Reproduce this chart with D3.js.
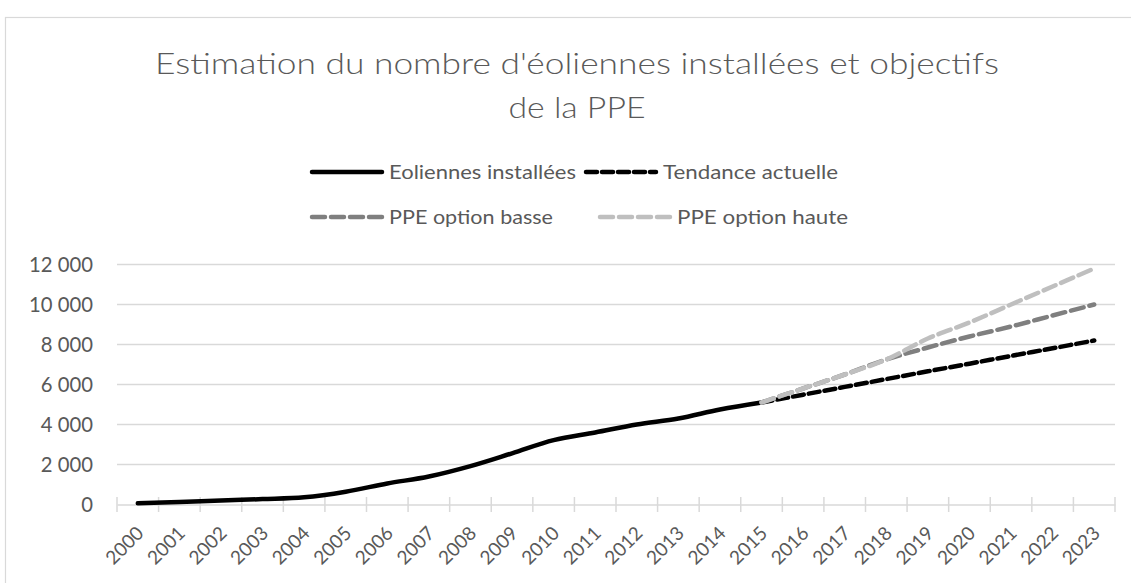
<!DOCTYPE html>
<html>
<head>
<meta charset="utf-8">
<script src="https://cdn.jsdelivr.net/npm/d3@7"></script>
<style>
  html, body { margin: 0; padding: 0; background: #ffffff; }
  svg { display: block; }
</style>
</head>
<body>
<svg id="chart" width="1131" height="583"></svg>
<script>
// ---- data ----
const years = d3.range(2000, 2024).map(String);
const yTicks = [0, 2000, 4000, 6000, 8000, 10000, 12000];

const installedYears = years.slice(0, 16);           // 2000-2015
const installedValues = [60, 120, 200, 270, 360, 640, 1050, 1400, 1920, 2560, 3220, 3600, 4000, 4300, 4750, 5100];

const forecastYears = years.slice(15);               // 2015-2023
const trendValues = [5100, 5490, 5880, 6270, 6660, 7040, 7430, 7810, 8200];
const ppeLowValues = [5100, 5800, 6500, 7250, 7850, 8400, 8900, 9450, 10000];
const ppeHighValues = [5100, 5800, 6500, 7250, 8300, 9100, 10000, 10900, 11800];

const seriesNames = ["Eoliennes installées", "Tendance actuelle", "PPE option basse", "PPE option haute"];
const titleLines = ["Estimation du nombre d'éoliennes installées et objectifs", "de la PPE"];

// ---- styles ----
const FONT = "Lato, 'Open Sans', sans-serif";
const TEXT = "#595959";
const GRID = "#d9d9d9";
const styles = [
  { color: "#000000", dash: null },
  { color: "#000000", dash: "11,5" },
  { color: "#7f7f7f", dash: "13,6" },
  { color: "#bfbfbf", dash: "13,6" }
];

const svg = d3.select("#chart");

// outer frame
svg.append("rect").attr("x", 5.5).attr("y", 17.5).attr("width", 1200).attr("height", 700)
  .attr("fill", "#fff").attr("stroke", GRID).attr("stroke-width", 1.2);

// helper: squeeze text horizontally to a target width
function squeeze(sel, targetWidth) {
  sel.attr("textLength", targetWidth).attr("lengthAdjust", "spacingAndGlyphs");
  return sel;
}

// ---- title ----
const t1 = svg.append("text").attr("x", 577).attr("y", 74).attr("text-anchor", "middle")
  .attr("font-family", FONT).attr("font-weight", 300).attr("font-size", 29).attr("fill", TEXT)
  .text(titleLines[0]);
squeeze(t1, 844);
const t2 = svg.append("text").attr("x", 577).attr("y", 118).attr("text-anchor", "middle")
  .attr("font-family", FONT).attr("font-weight", 300).attr("font-size", 29).attr("fill", TEXT)
  .text(titleLines[1]);
squeeze(t2, 137);

// ---- scales ----
const x = d3.scaleBand().domain(years).range([117, 1115]);
const xc = d => x(d) + x.bandwidth() / 2;
const y = d3.scaleLinear().domain([0, 12000]).range([504.5, 264.5]);

// gridlines
svg.append("g").selectAll("line").data(yTicks.filter(v => v > 0)).join("line")
  .attr("x1", 117).attr("x2", 1115)
  .attr("y1", d => y(d)).attr("y2", d => y(d))
  .attr("stroke", GRID).attr("stroke-width", 1.5);

// y axis labels
const fmt = d3.formatLocale({ decimal: ",", thousands: " ", grouping: [3] }).format(",d");
const yAxis = d3.axisLeft(y).tickValues(yTicks).tickFormat(fmt).tickSize(0).tickPadding(0);
const gy = svg.append("g").attr("transform", "translate(93,0)").call(yAxis);
gy.select(".domain").remove();
gy.selectAll("text").attr("font-family", FONT).attr("font-size", 20).attr("fill", TEXT);
{
  const ref = gy.selectAll("text").filter(d => d === 12000);
  const w = ref.node().getComputedTextLength();
  const fs = 20 * 64 / w;
  gy.selectAll("text").attr("font-size", fs);
}

// x axis
const xAxis = d3.axisBottom(x).tickSize(0).tickFormat(d => d);
const gx = svg.append("g").attr("transform", "translate(0,504.5)").call(xAxis);
gx.select(".domain").attr("stroke", GRID).attr("stroke-width", 1.5);
gx.selectAll(".tick line").remove();
// cross tick marks at category boundaries
const bounds = years.map(d => x(d)).concat([x(years[years.length - 1]) + x.bandwidth()]);
svg.append("g").selectAll("line").data(bounds).join("line")
  .attr("x1", d => d).attr("x2", d => d).attr("y1", 497).attr("y2", 512)
  .attr("stroke", GRID).attr("stroke-width", 1.5);
gx.selectAll(".tick text")
  .attr("font-family", FONT).attr("font-size", 19).attr("fill", TEXT)
  .attr("text-anchor", "end").attr("dy", 0).attr("y", 0)
  .attr("transform", "translate(7,30) rotate(-45)");

// ---- lines ----
const line = d3.line().x(d => xc(d[0])).y(d => y(d[1])).curve(d3.curveCatmullRom.alpha(0.5));
const seriesData = [
  d3.zip(installedYears, installedValues),
  d3.zip(forecastYears, trendValues),
  d3.zip(forecastYears, ppeLowValues),
  d3.zip(forecastYears, ppeHighValues)
];
const lineWidth = 4.5;
seriesData.forEach((data, i) => {
  svg.append("path").datum(data).attr("d", line)
    .attr("fill", "none").attr("stroke", styles[i].color).attr("stroke-width", lineWidth)
    .attr("stroke-dasharray", styles[i].dash)
    .attr("stroke-linecap", "round").attr("stroke-linejoin", "round");
});

// ---- legend ----
const legendItems = [
  { i: 0, x: 312, y: 172, w: 187 },
  { i: 1, x: 586, y: 172, w: 175 },
  { i: 2, x: 312, y: 217, w: 164 },
  { i: 3, x: 600, y: 217, w: 171 }
];
const lg = svg.append("g");
legendItems.forEach(it => {
  const s = styles[it.i];
  lg.append("line").attr("x1", it.x).attr("x2", it.x + 70).attr("y1", it.y).attr("y2", it.y)
    .attr("stroke", s.color).attr("stroke-width", lineWidth).attr("stroke-dasharray", s.dash)
    .attr("stroke-linecap", "round");
  const t = lg.append("text").attr("x", it.x + 77).attr("y", it.y).attr("dy", "0.36em")
    .attr("font-family", FONT).attr("font-size", 20).attr("fill", TEXT)
    .text(seriesNames[it.i]);
  squeeze(t, it.w);
});
</script>
</body>
</html>
